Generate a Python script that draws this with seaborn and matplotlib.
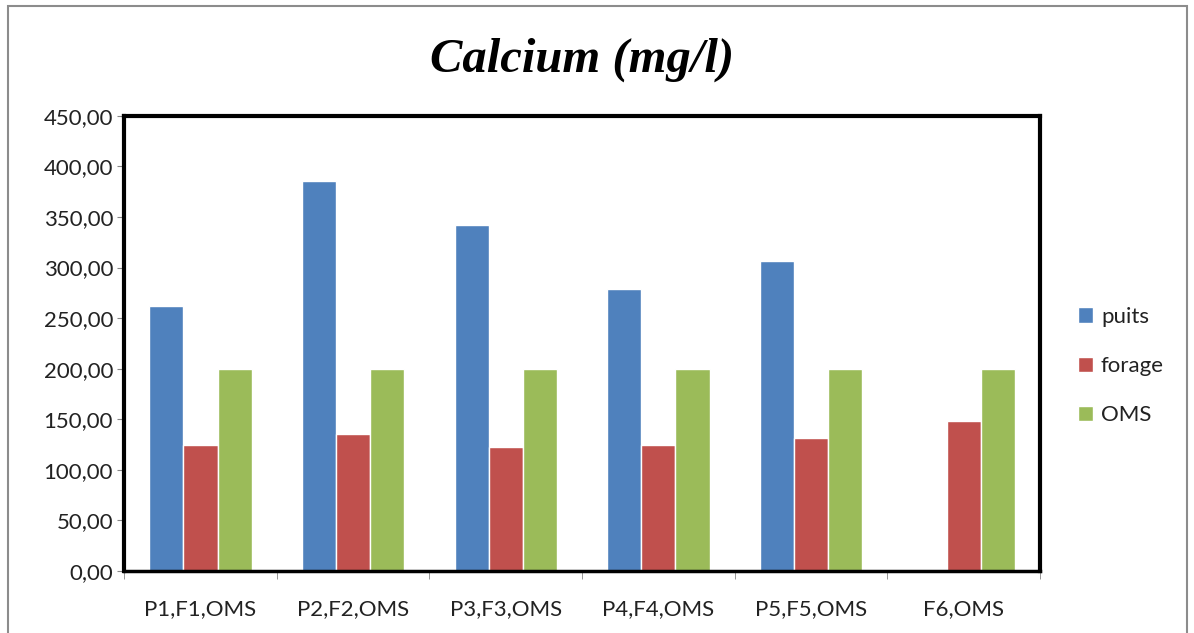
import seaborn as sns
import matplotlib.pyplot as plt
import pandas as pd
import numpy as np
from matplotlib.patches import Rectangle
from matplotlib.ticker import FuncFormatter, FixedLocator

# data
categories = ["P1,F1,OMS", "P2,F2,OMS", "P3,F3,OMS", "P4,F4,OMS", "P5,F5,OMS", "F6,OMS"]
puits = [262, 386, 342, 279, 306, np.nan]
forage = [125, 135, 123, 125, 131, 148]
oms = [200, 200, 200, 200, 200, 200]
series = ["puits", "forage", "OMS"]
colors = ["#4F81BD", "#C0504D", "#9BBB59"]

df = pd.DataFrame({"cat": categories * 3,
                   "serie": ["puits"] * 6 + ["forage"] * 6 + ["OMS"] * 6,
                   "val": puits + forage + oms})

sns.set_style("white")
plt.rcParams["font.family"] = ["Lato", "DejaVu Sans"]

fig = plt.figure(figsize=(11.94, 6.33), dpi=100)
ax = fig.add_axes([0.104, 0.098, 0.767, 0.719])

sns.barplot(data=df, x="cat", y="val", hue="serie", hue_order=series,
            palette=colors, width=0.67, saturation=1, ax=ax, legend=True)

ax.set_ylim(0, 450)
ax.set_xlim(-0.5, 5.5)
ax.set_yticks(np.arange(0, 451, 50))
ax.yaxis.set_major_formatter(FuncFormatter(lambda v, p: f"{v:.2f}".replace(".", ",")))
ax.tick_params(axis="y", labelsize=16, length=5, color="#868686", direction="out", pad=3,
               left=True, labelcolor="#222222")
ax.tick_params(axis="x", labelsize=16, length=0, pad=20, labelcolor="#222222")
ax.xaxis.set_minor_locator(FixedLocator(np.arange(-0.5, 6, 1)))
ax.tick_params(axis="x", which="minor", length=6, color="#868686", bottom=True, direction="out")
ax.set_xlabel("")
ax.set_ylabel("")
for s in ax.spines.values():
    s.set_visible(True)
    s.set_color("black")
    s.set_linewidth(3)
ax.spines["bottom"].set_linewidth(2.5)

ax.set_title("Calcium (mg/l)", fontsize=35, fontweight="bold", fontstyle="italic",
             family="Liberation Serif", color="black", pad=32)

ax.legend(loc="center left", bbox_to_anchor=(1.012, 0.45), frameon=False, fontsize=16,
          handlelength=0.7, handleheight=0.7, handletextpad=0.35, labelspacing=1.32,
          borderaxespad=0.8, labelcolor="#222222")

# outer chart border
fig.patches.append(Rectangle((0.007, -0.01), 0.987, 1.0, transform=fig.transFigure,
                             fill=False, edgecolor="#8c8c8c", linewidth=1.5))

fig.savefig("out.png", dpi=100)
